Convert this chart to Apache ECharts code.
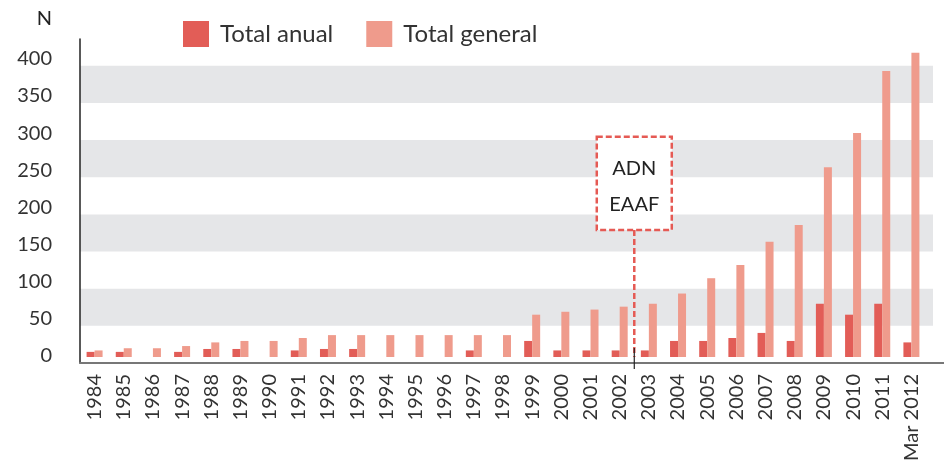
<!DOCTYPE html>
<html>
<head>
<meta charset="utf-8">
<script src="https://cdn.jsdelivr.net/npm/echarts@6/dist/echarts.min.js"></script>
<style>
html, body { margin: 0; padding: 0; background: #fff; }
#chart { width: 944px; height: 464px; }
</style>
</head>
<body>
<div id="chart"></div>
<script>
// categorias (años)
const years = ['1984', '1985', '1986', '1987', '1988', '1989', '1990', '1991', '1992', '1993',
  '1994', '1995', '1996', '1997', '1998', '1999', '2000', '2001', '2002', '2003',
  '2004', '2005', '2006', '2007', '2008', '2009', '2010', '2011', 'Mar 2012'];
// valores
const totalAnual = [7, 7, 0, 7, 11, 11, 0, 9, 11, 11, 0, 0, 0, 9, 0, 22, 9, 9, 9, 9,
  22, 22, 26, 33, 22, 73, 58, 73, 20];
const totalGeneral = [9, 12, 12, 15, 20, 22, 22, 26, 30, 30, 30, 30, 30, 30, 30, 58, 62, 65, 69, 73,
  87, 108, 126, 158, 181, 260, 307, 392, 417];
const yInterval = 50;
const yTop = 436;
// anotación entre 2002 y 2003
const noteLines = ['ADN', 'EAAF'];
const noteFrom = '2002', noteTo = '2003';

const FONT = 'Lato';
const chart = echarts.init(document.getElementById('chart'));

chart.setOption({
  animation: false,
  textStyle: { fontFamily: FONT },
  legend: {
    data: ['Total anual', 'Total general'],
    left: 178,
    top: 16,
    icon: 'rect',
    itemWidth: 26,
    itemHeight: 26,
    itemGap: 33,
    textStyle: { fontSize: 24, color: '#333', fontFamily: FONT, padding: [0, 0, 0, 6] }
  },
  grid: [
    // fondo con bandas + eje Y
    { left: 80, right: 11, top: 39, bottom: 101 },
    // barras
    { left: 80, right: 18, top: 39, bottom: 101 },
    // línea base
    { left: 80, right: 0, top: 39, bottom: 101 }
  ],
  xAxis: [
    { gridIndex: 0, type: 'value', show: false, min: 0, max: 1 },
    {
      gridIndex: 1,
      type: 'category',
      data: years,
      axisLine: { show: false },
      axisTick: { show: false },
      axisLabel: { interval: 0, rotate: 90, margin: 17, fontSize: 20, color: '#333', fontFamily: FONT }
    },
    {
      gridIndex: 2, type: 'value', min: 0, max: 1,
      axisLine: { show: true, onZero: false, lineStyle: { color: '#777', width: 2 } },
      axisTick: { show: false },
      axisLabel: { show: false },
      splitLine: { show: false }
    }
  ],
  yAxis: [
    {
      gridIndex: 0,
      type: 'value',
      min: 0,
      max: yTop,
      interval: yInterval,
      name: 'N',
      nameLocation: 'end',
      nameGap: 10,
      nameTextStyle: { fontSize: 20, color: '#222', align: 'right', verticalAlign: 'bottom', padding: [0, 28, 0, 0] },
      axisLine: { show: true, lineStyle: { color: '#222', width: 1.5 } },
      axisTick: { show: false },
      axisLabel: {
        margin: 28, fontSize: 20, color: '#333', verticalAlign: 'bottom', lineHeight: 14,
        formatter: v => (v % yInterval === 0 ? String(v) : '')
      },
      splitLine: { show: false },
      splitArea: { show: true, areaStyle: { color: ['rgba(255,255,255,0)', '#e5e6e8'] } }
    },
    { gridIndex: 1, type: 'value', min: 0, max: yTop, show: false },
    { gridIndex: 2, type: 'value', min: 0, max: 1, show: false }
  ],
  series: [
    {
      name: 'Total anual',
      type: 'bar',
      xAxisIndex: 1,
      yAxisIndex: 1,
      barWidth: 8,
      barGap: '0%',
      itemStyle: { color: '#e25d57' },
      data: totalAnual
    },
    {
      name: 'Total general',
      type: 'bar',
      xAxisIndex: 1,
      yAxisIndex: 1,
      barWidth: 8,
      barGap: '0%',
      itemStyle: { color: '#ef9b8c' },
      data: totalGeneral
    }
  ]
});

// caja de anotación, ubicada con las escalas del gráfico
const cx = (chart.convertToPixel({ xAxisIndex: 1 }, noteFrom) + chart.convertToPixel({ xAxisIndex: 1 }, noteTo)) / 2;
const boxTop = chart.convertToPixel({ yAxisIndex: 1 }, 302);
const boxBottom = chart.convertToPixel({ yAxisIndex: 1 }, 174);
const base = chart.convertToPixel({ yAxisIndex: 1 }, 0);
const red = '#e55a54';

chart.setOption({
  graphic: [
    {
      type: 'line', z: 10,
      shape: { x1: cx, y1: boxBottom, x2: cx, y2: base },
      style: { stroke: red, lineWidth: 2.5, lineDash: [6, 3] }
    },
    {
      type: 'line', z: 11,
      shape: { x1: cx, y1: base - 9, x2: cx, y2: base + 12 },
      style: { stroke: '#222', lineWidth: 1.2 }
    },
    {
      type: 'rect', z: 10,
      shape: { x: cx - 37.5, y: boxTop, width: 75, height: boxBottom - boxTop },
      style: { fill: '#fff', stroke: red, lineWidth: 2.5, lineDash: [6, 3] }
    },
    {
      type: 'text', z: 11,
      x: cx, y: boxTop + 32,
      style: { text: noteLines[0], fontSize: 20, fontFamily: FONT, fill: '#222', align: 'center', verticalAlign: 'middle' }
    },
    {
      type: 'text', z: 11,
      x: cx, y: boxTop + 68,
      style: { text: noteLines[1], fontSize: 20, fontFamily: FONT, fill: '#222', align: 'center', verticalAlign: 'middle' }
    }
  ]
});
</script>
</body>
</html>
